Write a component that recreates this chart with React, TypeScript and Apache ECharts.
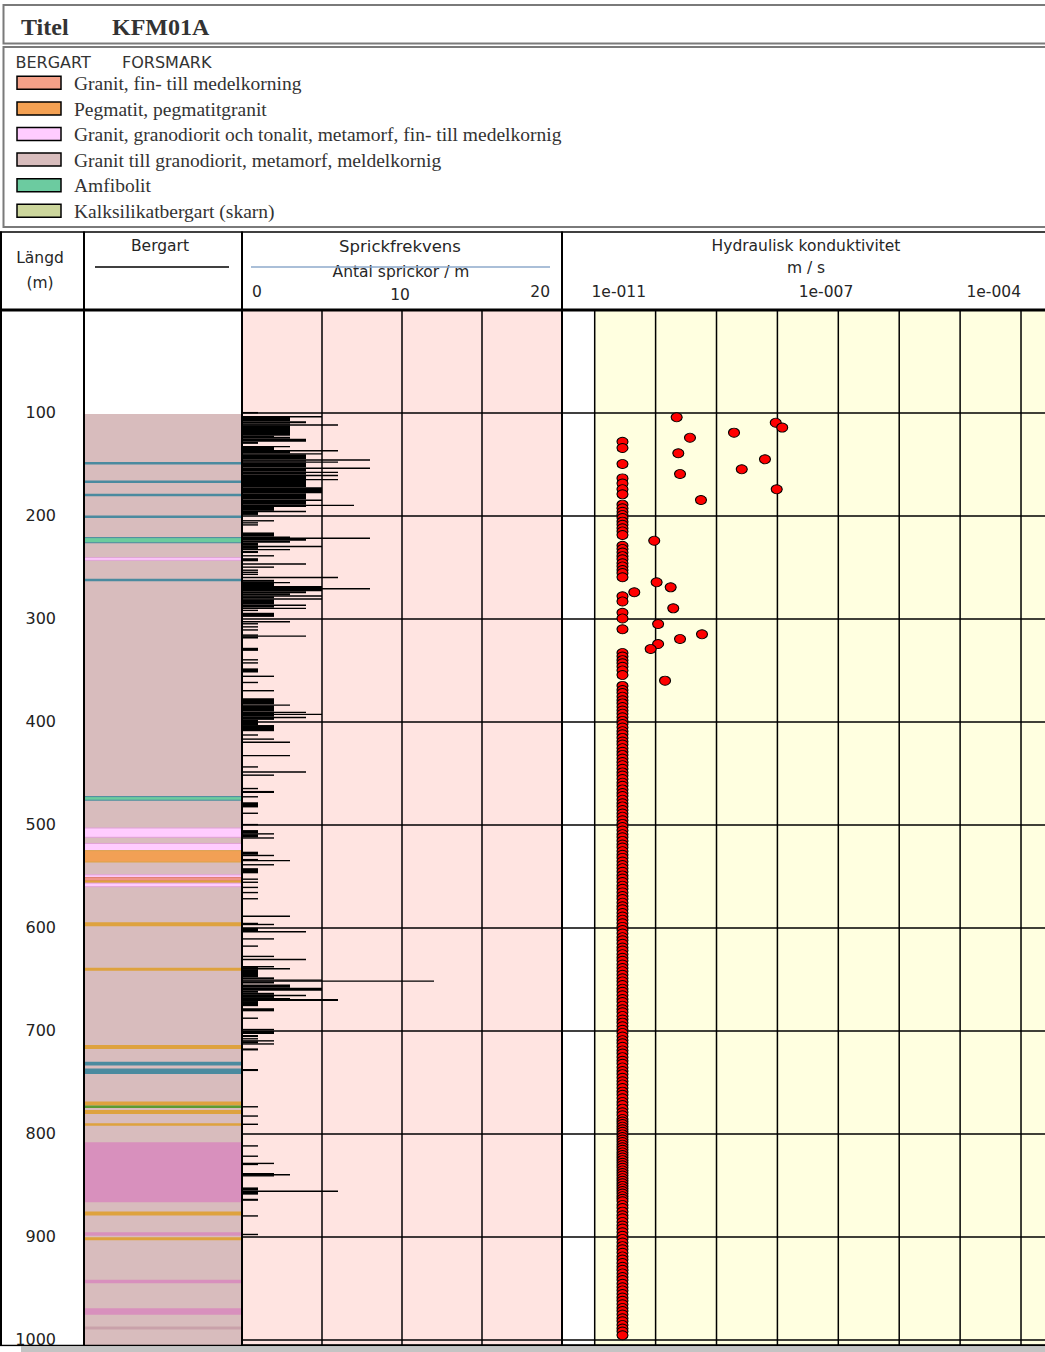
import React, { useEffect, useRef } from "react";
import * as echarts from "echarts";

// ---------- data ----------
const DEPTH_MAX = 1005;
const depthTicks = [100, 200, 300, 400, 500, 600, 700, 800, 900, 1000];

const legendNames = [
  "Granit, fin- till medelkorning",
  "Pegmatit, pegmatitgranit",
  "Granit, granodiorit och tonalit, metamorf, fin- till medelkornig",
  "Granit till granodiorit, metamorf, meldelkornig",
  "Amfibolit",
  "Kalksilikatbergart (skarn)",
];
const legendColors = ["#f4a088", "#f4a153", "#ffccff", "#d8bdbd", "#6ccba0", "#ccd69c"];

// band appearance types in the Bergart column: [fill, edge]
const bandFill = ["#d8bcbd", "#4a8a9f", "#6ccb9e", "#ffccff", "#f2a055", "#dea23e", "#f0938a", "#d890bd", "#c9a1aa", "#5b9b33"];
const bandEdge = ["", "", "#4a8a9f", "#e0a0d6", "#dba348", "", "#e08070", "", "", ""];

// [from m, to m, type]
const bergartBands = [
  [101, 1005, 0],
  [147.5, 149.5, 1],
  [165.5, 167.5, 1],
  [178.5, 180.5, 1],
  [199.5, 201.5, 1],
  [221, 226, 2],
  [240.5, 243, 3],
  [261, 262, 1],
  [472.5, 476, 2],
  [503, 512, 3],
  [518, 525, 3],
  [525, 536, 4],
  [548.5, 551, 3],
  [551, 554, 6],
  [554, 555.8, 5],
  [556.5, 560, 3],
  [594.5, 598.5, 5],
  [638.6, 641.5, 5],
  [713.6, 717.5, 5],
  [730, 733.7, 1],
  [736.6, 741.8, 1],
  [768.6, 772.5, 5],
  [772.5, 773.8, 9],
  [776.7, 780.6, 5],
  [789.7, 791.5, 5],
  [808.1, 866.4, 7],
  [875.4, 879.2, 5],
  [895.5, 898.8, 7],
  [900.3, 903.2, 5],
  [941.7, 945, 7],
  [969.2, 975.7, 7],
  [987, 990, 8],
];

// Sprickfrekvens: [from m, to m, antal sprickor / m]
const fractureSegments = [
  [99, 100.5, 1], [103, 104, 5], [104, 108, 3], [108, 110, 4], [110, 111, 3], [111, 112, 6], [112, 122, 3],
  [122, 123, 2], [123, 125, 3], [125, 128, 4], [128, 130, 1], [132, 133, 3], [133, 136, 2], [136, 137, 6],
  [137, 139, 3], [139, 140, 5], [140, 145, 4], [145, 146, 8], [146, 147, 4], [147, 148, 6], [148, 153, 4],
  [153, 154, 8], [154, 157, 4], [157, 158, 6], [158, 160, 4], [160, 161, 6], [161, 164, 4], [164, 165, 6],
  [165, 172, 4], [172, 178, 5], [178, 184, 4], [184, 185, 5], [185, 189, 4], [189, 190, 7], [190, 191, 4],
  [191, 195, 2], [195, 196, 4], [196, 199, 1],
  [204, 205, 2], [206, 207, 1], [208, 209, 1], [216, 220, 2], [220, 221, 3], [221, 222, 8], [222, 224, 4],
  [224, 226, 3], [226, 229, 1], [229, 230, 5], [230, 232, 1], [232, 233, 3], [234, 236, 1], [238, 239, 2],
  [241, 244, 1], [246, 247, 4], [249, 250, 2], [252, 253, 1], [254, 255, 1], [256, 257, 1], [259, 260, 6],
  [262, 264, 2], [264, 265, 3], [265, 268, 2], [268, 270, 5], [270, 271, 8], [271, 273, 5], [273, 275, 4],
  [275, 277, 3], [277, 278, 5], [278, 280, 2], [280, 281, 5], [281, 286, 2], [286, 287, 4], [287, 289, 2],
  [289, 290, 4], [291, 292, 1], [294, 298, 2],
  [302, 303, 3], [304, 305, 1], [307, 308, 1], [310, 311, 1], [315, 316, 1], [316, 317, 4], [317, 319, 1],
  [328, 331, 1], [339, 340, 1], [342, 343, 1], [348, 352, 1], [355, 356, 2], [361, 362, 1], [369, 370, 2],
  [377, 383, 2], [383, 384, 3], [384, 390, 2], [390, 391, 4], [391, 392, 2], [392, 393, 5], [393, 395, 2],
  [395, 396, 4], [396, 398, 2], [398, 403, 1], [403, 409, 2], [412, 413, 1], [416, 417, 2], [419, 420, 3],
  [432, 433, 3], [443, 444, 1], [448, 449, 4], [451, 452, 2], [464, 465, 1], [467, 469, 2], [472, 473, 1],
  [478, 483, 1], [488, 489, 1],
  [499, 500, 1], [505, 508, 1], [508, 509, 2], [509, 512, 1], [512, 513, 2], [526, 529, 1], [529, 530, 2],
  [533, 534, 1], [534, 535, 3], [538, 539, 2], [542, 547, 1], [552, 553, 1], [555, 556, 1], [560, 561, 1],
  [565, 566, 1], [571, 572, 1], [588, 589, 3], [595, 596, 1], [596, 597, 2], [600, 603, 1], [603, 604, 4],
  [610, 611, 2], [617, 618, 1], [627, 628, 2], [630, 631, 4],
  [637, 638, 2], [638, 639, 1], [639, 640, 3], [640, 648, 1], [648, 650, 2], [650, 651, 5], [651, 652, 12],
  [652, 654, 2], [655, 658, 3], [658, 661, 5], [661, 663, 1], [663, 665, 2], [665, 666, 4], [666, 668, 2],
  [668, 669, 3], [669, 671, 6], [671, 676, 1], [678, 681, 2], [687, 688, 1], [698, 699, 2], [700, 703, 2],
  [704, 706, 1], [707, 708, 1],
  [709, 710, 2], [710, 712, 1], [712, 713, 2], [717, 719, 1], [737, 739, 1], [773, 774, 1], [782, 783, 1],
  [790, 791, 1], [811, 812, 1], [821, 822, 1], [828, 829, 2], [829, 830, 1], [838, 839, 2], [839, 840, 3],
  [840, 841, 2], [852, 855, 1], [855, 856, 6], [856, 859, 1], [863, 865, 1], [879, 880, 1], [897, 898, 1],
];

// Hydraulisk konduktivitet (m/s)
const K_MIN = 2.904e-12;
const K_MAX = 2.477e-4;
const decadeLines = [1e-11, 1e-10, 1e-9, 1e-8, 1e-7, 1e-6, 1e-5, 1e-4];
const detectionLimitK = 2.86e-11;
const detectionDepths = [
  128, 134, 149.5, 163.5, 168.5, 174, 179, 189, 192.5, 196, 199, 202, 205.5, 208.5, 212, 215, 218.5,
  229, 232, 235.5, 239, 242, 246, 249, 252.5, 255.5, 259.5, 278, 283, 294, 299.5, 310,
  333, 336.5, 340, 343, 346.5, 350, 354.5, 365, 369, 372, 375.5, 379, 382, 385.5, 389, 392, 395.5, 399,
  402, 405.5, 409, 412, 415.5, 419, 422, 425.5, 429, 432, 435.5, 439, 442, 445.5, 449, 452, 455.5, 459,
  462, 465.5, 469, 472, 475.5, 479, 482, 485.5, 489, 492, 495.5, 499, 502, 505.5, 509, 512, 515.5, 519,
  522, 525.5, 529, 532, 535.5, 539, 542, 545.5, 549, 552, 555.5, 559, 562, 565.5, 569, 572, 575.5, 579,
  582, 585.5, 589, 592, 595.5, 599, 602, 605.5, 609, 612, 615.5, 619, 622, 625.5, 629, 632, 635.5, 639,
  642, 645.5, 649, 652, 655.5, 659, 662, 665.5, 669, 672, 675.5, 679, 682, 685.5, 689, 692, 695.5, 699,
  702, 705.5, 709, 712, 715.5, 719, 722, 725.5, 729, 732, 735.5, 739, 742, 745.5, 749, 752, 755.5, 759,
  762, 765.5, 769, 772, 775.5, 779, 782, 785.5, 788, 790.5, 793, 795.5, 798, 800.5, 803, 805.5, 808, 810.5,
  813, 815.5, 818, 820.5, 823, 825.5, 828, 830.5, 833, 835.5, 838, 840.5, 843, 845.5, 848, 850.5, 853,
  855.5, 858, 860.5, 863, 865.5, 869, 872, 875.5, 879, 882, 885.5, 889, 892, 895.5, 899, 902, 905.5, 909,
  912, 915.5, 919, 922, 925.5, 929, 932, 935.5, 939, 942, 945.5, 949, 952, 955.5, 959, 962, 965.5, 969,
  972, 975.5, 979, 982, 985.5, 989, 992, 995.5,
];
// [K m/s, depth m]
const measuredK = [
  [2.22e-10, 104.2], [9.4e-9, 109.4], [1.2e-8, 114.2], [1.94e-9, 119.1], [3.67e-10, 124], [2.36e-10, 139.1],
  [6.25e-9, 145], [2.6e-9, 154.7], [2.52e-10, 159.2], [9.75e-9, 174.1], [5.56e-10, 184.5], [9.5e-11, 224],
  [1.04e-10, 264.4], [1.77e-10, 269.3], [4.47e-11, 274.1], [1.95e-10, 289.7], [1.1e-10, 304.9],
  [5.78e-10, 314.9], [2.52e-10, 319.4], [1.1e-10, 324.3], [8.3e-11, 329.1], [1.43e-10, 359.9],
];

// ---------- helpers ----------
const SANS = "DejaVu Sans";
const SERIF = "Liberation Serif";

function txt(text: string, x: number, y: number, size: number, opts: any = {}) {
  return {
    type: "text",
    x,
    y,
    z: 50,
    style: {
      text,
      font: `${opts.bold ? "bold " : ""}${size}px "${opts.family || SANS}"`,
      fill: opts.fill || "#262626",
      textAlign: opts.align || "left",
      textVerticalAlign: "middle",
      align: opts.align || "left",
      verticalAlign: "middle",
    },
  };
}
function ln(x1: number, y1: number, x2: number, y2: number, w: number, color = "#000") {
  return { type: "line", z: 100, shape: { x1, y1, x2, y2 }, style: { stroke: color, lineWidth: w } };
}

export default function App() {
  const ref = useRef<HTMLDivElement>(null);

  useEffect(() => {
    document.body.style.margin = "0";
    if (!ref.current) return;
    const chart = echarts.init(ref.current, null, { renderer: "svg" });

    const graphics: any[] = [];
    // title box
    graphics.push({ type: "rect", z: 10, shape: { x: 3.5, y: 5, width: 1060, height: 38.5 }, style: { fill: "#fff", stroke: "#7a7a7a", lineWidth: 2 } });
    graphics.push(txt("Titel", 21, 27, 24, { family: SERIF, bold: true, fill: "#333" }));
    graphics.push(txt("KFM01A", 112, 27, 24, { family: SERIF, bold: true, fill: "#333" }));
    // legend box
    graphics.push({ type: "rect", z: 10, shape: { x: 3.5, y: 47, width: 1060, height: 180 }, style: { fill: "#fff", stroke: "#7a7a7a", lineWidth: 2 } });
    graphics.push(txt("BERGART", 15.5, 62, 16, { fill: "#333" }));
    graphics.push(txt("FORSMARK", 122, 62, 16, { fill: "#333" }));
    legendNames.forEach((name, i) => {
      const top = 76.3 + i * 25.6;
      graphics.push({ type: "rect", z: 50, shape: { x: 17, y: top, width: 44, height: 13 }, style: { fill: legendColors[i], stroke: "#000", lineWidth: 1.5 } });
      graphics.push(txt(name, 74, top + 7.2, 19.5, { family: SERIF, fill: "#333" }));
    });
    // header texts
    graphics.push(txt("Längd", 40, 258, 15.5, { align: "center" }));
    graphics.push(txt("(m)", 40, 282.5, 15.5, { align: "center" }));
    graphics.push(txt("Bergart", 160, 246, 15.5, { align: "center" }));
    graphics.push(ln(95, 267, 229, 267, 1.5));
    graphics.push(txt("Sprickfrekvens", 400, 246, 16.5, { align: "center" }));
    graphics.push(ln(251, 267, 550, 267, 1.5, "#8eaacb"));
    graphics.push(txt("Antal sprickor / m", 401, 272, 15.5, { align: "center" }));
    graphics.push(txt("0", 252, 292, 15.5));
    graphics.push(txt("10", 400, 295, 15.5, { align: "center" }));
    graphics.push(txt("20", 550, 292, 15.5, { align: "right" }));
    graphics.push(txt("Hydraulisk konduktivitet", 806, 246, 15.5, { align: "center" }));
    graphics.push(txt("m / s", 806, 268, 15.5, { align: "center" }));
    graphics.push(txt("1e-011", 591.5, 292, 15.5));
    graphics.push(txt("1e-007", 826, 292, 15.5, { align: "center" }));
    graphics.push(txt("1e-004", 1021, 292, 15.5, { align: "right" }));
    // frame lines
    graphics.push(ln(0, 232, 1045, 232, 1.5));
    graphics.push(ln(0, 310, 1045, 310, 3));
    graphics.push(ln(0, 1345.5, 1045, 1345.5, 1.5));
    graphics.push(ln(1, 231.5, 1, 1346, 2));
    graphics.push(ln(84, 231.5, 84, 1346, 2));
    graphics.push(ln(242, 231.5, 242, 1346, 2));
    graphics.push(ln(562, 231.5, 562, 1346, 2));
    graphics.push({ type: "rect", z: 100, shape: { x: 0, y: 1346.5, width: 21, height: 6 }, style: { fill: "#fff" } });
    graphics.push({ type: "rect", z: 100, shape: { x: 21, y: 1347, width: 1030, height: 6 }, style: { fill: "#c4c4c4" } });

    const depthAxisBase = {
      type: "value",
      inverse: true,
      min: 0,
      max: DEPTH_MAX,
      interval: 100,
      axisLine: { show: false },
      axisTick: { show: false },
    };
    const hiddenLabels = { show: false };
    const blackSplit = { show: true, lineStyle: { color: "#000", width: 1.5 } };

    const option: any = {
      animation: false,
      backgroundColor: "#ffffff",
      grid: [
        { left: 84, top: 310, width: 158, height: 1035, show: false, outerBoundsMode: "none" },
        { left: 242, top: 310, width: 320, height: 1035, show: true, backgroundColor: "#ffe4e1", borderWidth: 0, outerBoundsMode: "none" },
        { left: 594.7, top: 310, width: 450.3, height: 1035, show: true, backgroundColor: "#ffffe0", borderWidth: 0, outerBoundsMode: "none" },
        { left: 562, top: 310, width: 483, height: 1035, show: false, outerBoundsMode: "none" },
      ],
      xAxis: [
        { gridIndex: 0, type: "value", min: 0, max: 1, show: false },
        {
          gridIndex: 1, type: "value", min: 0, max: 20, interval: 5,
          axisLine: { show: false }, axisTick: { show: false }, axisLabel: hiddenLabels, splitLine: blackSplit,
        },
        { gridIndex: 2, type: "value", min: 0, max: 1, show: false },
        {
          gridIndex: 3, type: "log", logBase: 10, min: K_MIN, max: K_MAX,
          axisLine: { show: false }, axisTick: { show: false }, axisLabel: hiddenLabels, splitLine: { show: false },
        },
      ],
      yAxis: [
        {
          ...depthAxisBase, gridIndex: 0, splitLine: { show: false },
          axisLabel: {
            show: true, margin: 28, fontFamily: SANS, fontSize: 16, color: "#222",
            formatter: (v: number) => (depthTicks.indexOf(v) >= 0 ? String(v) : ""),
          },
        },
        { ...depthAxisBase, gridIndex: 1, axisLabel: hiddenLabels, splitLine: blackSplit },
        { ...depthAxisBase, gridIndex: 2, show: false },
        { ...depthAxisBase, gridIndex: 3, axisLabel: hiddenLabels, splitLine: blackSplit },
      ],
      graphic: { elements: graphics },
      series: [
        {
          type: "custom",
          name: "Bergart",
          xAxisIndex: 0,
          yAxisIndex: 0,
          data: bergartBands,
          z: 2,
          renderItem: (params: any, api: any) => {
            const t = api.value(2);
            const p1 = api.coord([0, api.value(0)]);
            const p2 = api.coord([1, api.value(1)]);
            const h = Math.max(p2[1] - p1[1], 2.5);
            const edge = bandEdge[t];
            return {
              type: "rect",
              shape: { x: p1[0], y: p1[1], width: p2[0] - p1[0], height: h },
              style: edge ? { fill: bandFill[t], stroke: edge, lineWidth: 1 } : { fill: bandFill[t] },
            };
          },
        },
        {
          type: "custom",
          name: "Sprickfrekvens",
          xAxisIndex: 1,
          yAxisIndex: 1,
          data: fractureSegments,
          z: 3,
          renderItem: (params: any, api: any) => {
            const p1 = api.coord([0, api.value(0)]);
            const p2 = api.coord([api.value(2), api.value(1)]);
            const h = Math.max(p2[1] - p1[1], 1.4);
            return {
              type: "rect",
              shape: { x: p1[0], y: p1[1], width: p2[0] - p1[0], height: h },
              style: { fill: "#000" },
            };
          },
        },
        {
          type: "custom",
          name: "decades",
          xAxisIndex: 3,
          yAxisIndex: 3,
          data: decadeLines.map((k) => [k, 0]),
          z: 1,
          silent: true,
          renderItem: (params: any, api: any) => {
            const a = api.coord([api.value(0), 0]);
            const b = api.coord([api.value(0), DEPTH_MAX]);
            return {
              type: "line",
              shape: { x1: a[0], y1: a[1], x2: b[0], y2: b[1] },
              style: { stroke: "#000", lineWidth: 1.5 },
            };
          },
        },
        {
          type: "scatter",
          name: "K detection",
          xAxisIndex: 3,
          yAxisIndex: 3,
          z: 4,
          symbol: "circle",
          symbolSize: [11, 9],
          itemStyle: { color: "#ff0000", borderColor: "#000", borderWidth: 1, opacity: 1 },
          data: detectionDepths.map((d) => [detectionLimitK, d]),
        },
        {
          type: "scatter",
          name: "K",
          xAxisIndex: 3,
          yAxisIndex: 3,
          z: 5,
          symbol: "circle",
          symbolSize: [11, 9],
          itemStyle: { color: "#ff0000", borderColor: "#000", borderWidth: 1, opacity: 1 },
          data: measuredK,
        },
      ],
    };

    chart.setOption(option);
    return () => chart.dispose();
  }, []);

  return <div ref={ref} style={{ width: 1045, height: 1352 }} />;
}
